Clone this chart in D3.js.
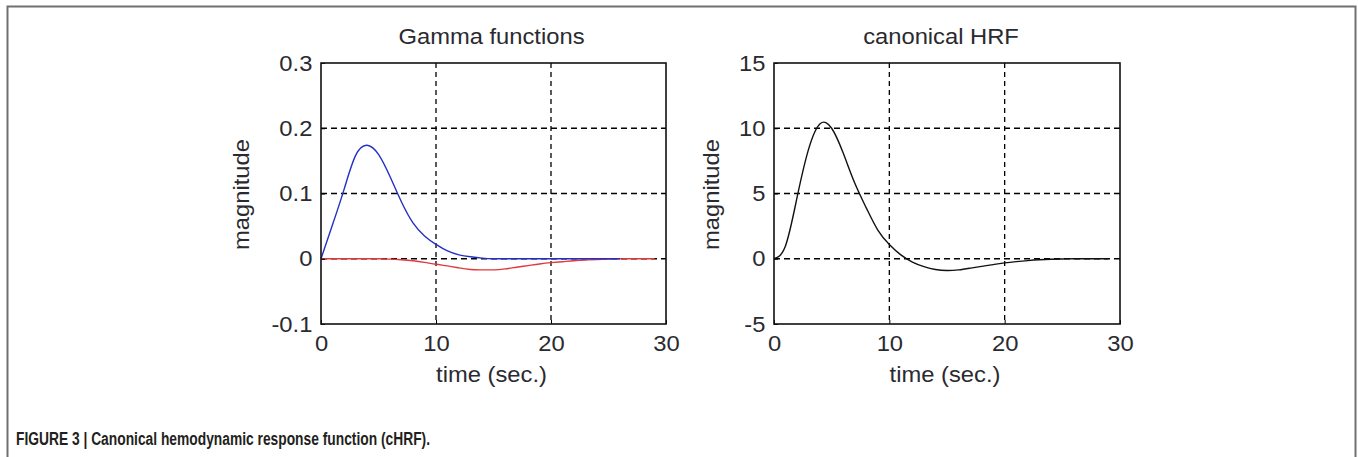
<!DOCTYPE html>
<html>
<head>
<meta charset="utf-8">
<script src="https://cdn.jsdelivr.net/npm/d3@7"></script>
<style>
  body { margin: 0; background: #fff; }
  text { font-family: Arial, "Liberation Sans", sans-serif; fill: #2a2a30; }
</style>
</head>
<body>
<div id="chart"></div>
<script>
// values (time in seconds)
const blueTime   = [0,1,2,3,4,5,6,7,8,9,10,11,12,13,14,15,16,17,18,19,20,21,22,23,24,25,26];
const blueValues = [0,0.052,0.106,0.158,0.174,0.160,0.126,0.087,0.055,0.035,0.022,0.012,0.006,0.003,0.001,0,0,0,0,0,0,0,0,0,0,0,0];

const redTime   = [0,1,2,3,4,5,6,7,8,9,10,11,12,13,14,15,16,17,18,19,20,21,22,23,24,25,26,27,28,29];
const redValues = [0,0,0,0,0,0,-0.0005,-0.0015,-0.003,-0.0055,-0.0085,-0.011,-0.014,-0.0165,-0.017,-0.017,-0.0155,-0.013,-0.0105,-0.008,-0.006,-0.0045,-0.003,-0.002,-0.0012,-0.0006,-0.0002,0,0,0];

const hrfTime   = [0,1,2,3,4,5,6,7,8,9,10,11,12,13,14,15,16,17,18,19,20,21,22,23,24,25,26,27,28,29];
const hrfValues = [0,1.0,4.7,8.4,10.35,10.0,8.1,5.8,3.9,2.2,1.1,0.3,-0.25,-0.6,-0.82,-0.9,-0.85,-0.72,-0.58,-0.45,-0.32,-0.22,-0.14,-0.08,-0.04,-0.02,0,0,0,0];

const xTicks = [0, 10, 20, 30];
const gammaTicks = [-0.1, 0, 0.1, 0.2, 0.3];
const gammaTickLabels = ["-0.1", "0", "0.1", "0.2", "0.3"];
const hrfTicks = [-5, 0, 5, 10, 15];
const hrfTickLabels = ["-5", "0", "5", "10", "15"];

const caption = "FIGURE 3 | Canonical hemodynamic response function (cHRF).";

const width = 1358, height = 457;
const stretch = 1.08; // the figure text is slightly wide

const svg = d3.select("#chart").append("svg")
    .attr("width", width)
    .attr("height", height);

// outer frame of the figure
svg.append("path")
    .attr("d", "M7.5,470 V6.5 H1355.5 V470")
    .attr("fill", "none")
    .attr("stroke", "#707070")
    .attr("stroke-width", 2);

const panels = [
    {
        title: "Gamma functions", left: 321, right: 666, top: 63, bottom: 324,
        domain: [-0.1, 0.3], ticks: gammaTicks, labels: gammaTickLabels, ylabelX: 249, titleShift: -2,
        series: [
            { t: redTime, v: redValues, color: "#e0393b" },
            { t: blueTime, v: blueValues, color: "#2430c4" }
        ]
    },
    {
        title: "canonical HRF", left: 774, right: 1120, top: 63, bottom: 324,
        domain: [-5, 15], ticks: hrfTicks, labels: hrfTickLabels, ylabelX: 719, titleShift: -6,
        series: [
            { t: hrfTime, v: hrfValues, color: "#111" }
        ]
    }
];

panels.forEach(p => {
    const x = d3.scaleLinear().domain([0, 30]).range([p.left, p.right]);
    const y = d3.scaleLinear().domain(p.domain).range([p.bottom, p.top]);
    const g = svg.append("g");
    const cx = (p.left + p.right) / 2;

    // dashed grid
    g.append("g").selectAll("line")
        .data(xTicks.slice(1, -1))
        .enter().append("line")
        .attr("x1", d => x(d)).attr("x2", d => x(d))
        .attr("y1", p.top).attr("y2", p.bottom)
        .attr("stroke", "#000").attr("stroke-width", 1.3)
        .attr("stroke-dasharray", "5,4");
    g.append("g").selectAll("line")
        .data(p.ticks.slice(1, -1))
        .enter().append("line")
        .attr("x1", p.left).attr("x2", p.right)
        .attr("y1", d => y(d)).attr("y2", d => y(d))
        .attr("stroke", "#000").attr("stroke-width", 1.3)
        .attr("stroke-dasharray", "6,4");

    // curves
    p.series.forEach(s => {
        const line = d3.line()
            .x((d, i) => x(s.t[i]))
            .y(d => y(d))
            .curve(d3.curveNatural);
        g.append("path")
            .datum(s.v)
            .attr("d", line)
            .attr("fill", "none")
            .attr("stroke", s.color)
            .attr("stroke-width", 1.4);
    });

    // axes
    const xAxis = g.append("g")
        .attr("transform", `translate(0,${p.bottom})`)
        .call(d3.axisBottom(x).tickValues(xTicks).tickSize(-4).tickPadding(11).tickFormat(d3.format("d")));
    const yAxis = g.append("g")
        .attr("transform", `translate(${p.left},0)`)
        .call(d3.axisLeft(y).tickValues(p.ticks).tickSize(-4).tickPadding(8)
            .tickFormat((d, i) => p.labels[i]));
    [xAxis, yAxis].forEach(a => {
        a.select(".domain").remove();
        a.selectAll("line").attr("stroke", "#000");
        a.selectAll("text")
            .attr("fill", "#2a2a30")
            .style("font-size", "22px")
            .attr("transform", `scale(${stretch},1)`);
    });

    // box
    g.append("rect")
        .attr("x", p.left).attr("y", p.top)
        .attr("width", p.right - p.left).attr("height", p.bottom - p.top)
        .attr("fill", "none")
        .attr("stroke", "#111")
        .attr("stroke-width", 1.6);

    // title and labels
    g.append("text")
        .attr("transform", `translate(${cx + p.titleShift},44) scale(${stretch},1)`)
        .attr("text-anchor", "middle")
        .style("font-size", "22px")
        .text(p.title);
    g.append("text")
        .attr("transform", `translate(${cx - 2},382) scale(${stretch},1)`)
        .attr("text-anchor", "middle")
        .style("font-size", "22px")
        .text("time (sec.)");
    g.append("text")
        .attr("transform", `translate(${p.ylabelX},${(p.top + p.bottom) / 2 + 1}) rotate(-90) scale(${stretch},1)`)
        .attr("text-anchor", "middle")
        .style("font-size", "22px")
        .text("magnitude");
});

svg.append("text")
    .attr("x", 16)
    .attr("y", 445)
    .attr("textLength", 414)
    .attr("lengthAdjust", "spacingAndGlyphs")
    .style("font-family", "'Liberation Sans', Arial, sans-serif")
    .style("font-weight", "bold")
    .style("font-size", "18px")
    .style("fill", "#231f20")
    .text(caption);
</script>
</body>
</html>
